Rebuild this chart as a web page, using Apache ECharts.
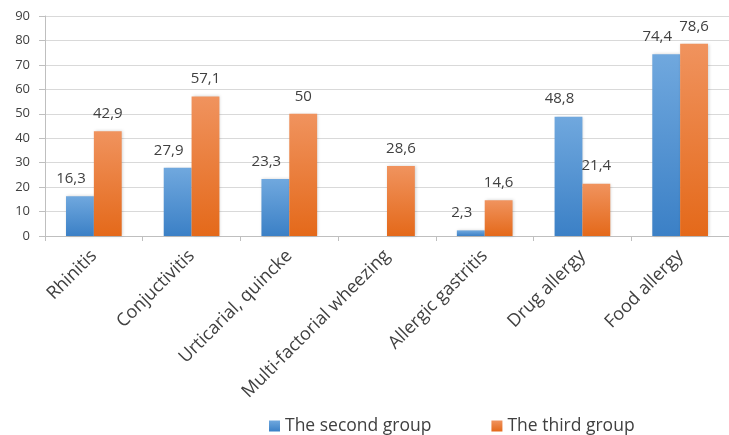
<!DOCTYPE html>
<html>
<head>
<meta charset="utf-8">
<script src="https://cdn.jsdelivr.net/npm/echarts@6/dist/echarts.min.js"></script>
<style>
  html, body { margin: 0; padding: 0; background: #fff; }
  #chart { width: 729px; height: 435px; }
</style>
</head>
<body>
<div id="chart"></div>
<script>
// Allergic manifestations by group (%)
var categories = ['Rhinitis', 'Conjuctivitis', 'Urticarial, quincke', 'Multi-factorial wheezing',
  'Allergic gastritis', 'Drug allergy', 'Food allergy'];
var secondGroup = [16.3, 27.9, 23.3, 0, 2.3, 48.8, 74.4];
var thirdGroup = [42.9, 57.1, 50, 28.6, 14.6, 21.4, 78.6];
var yTicks = [0, 10, 20, 30, 40, 50, 60, 70, 80, 90];

var FONT = '"Open Sans", "Noto Sans", sans-serif';
var TEXT = '#404040';

function grad(top, bottom) {
  return new echarts.graphic.LinearGradient(0, 0, 0, 1, [
    { offset: 0, color: top },
    { offset: 1, color: bottom }
  ]);
}

// decimal comma, and no label on empty bars
function fmt(p) {
  if (!p.value) return '';
  return String(p.value).replace('.', ',');
}

var chart = echarts.init(document.getElementById('chart'), null, { renderer: 'canvas' });
chart.setOption({
  animation: false,
  textStyle: { fontFamily: FONT },
  grid: { left: 45, right: -9, top: 16, bottom: 199, containLabel: false },
  legend: {
    top: 412,
    left: 264,
    itemWidth: 11,
    itemHeight: 11,
    itemGap: 60,
    icon: 'rect',
    textStyle: { fontFamily: FONT, fontSize: 17.5, color: TEXT, padding: [0, 0, 0, 0] },
    data: ['The second group', 'The third group']
  },
  xAxis: {
    type: 'category',
    data: categories,
    axisLine: { lineStyle: { color: '#bfbfbf' } },
    axisTick: { show: true, length: 5, lineStyle: { color: '#bfbfbf' } },
    axisLabel: { rotate: 45, interval: 0, fontFamily: FONT, fontSize: 18, color: TEXT, margin: 17 }
  },
  yAxis: {
    type: 'value',
    min: yTicks[0],
    max: yTicks[yTicks.length - 1],
    interval: 10,
    axisLine: { show: true, lineStyle: { color: '#bfbfbf' } },
    axisTick: { show: true, length: 6, lineStyle: { color: '#bfbfbf' } },
    axisLabel: { fontFamily: FONT, fontSize: 13, color: TEXT, margin: 15 },
    splitLine: { lineStyle: { color: '#d9d9d9' } }
  },
  series: [
    {
      name: 'The second group',
      type: 'bar',
      data: secondGroup,
      barGap: '0%',
      barCategoryGap: '43%',
      itemStyle: { color: grad('#70a8de', '#3b80c6'), shadowColor: 'rgba(0,0,0,0.18)', shadowBlur: 3, shadowOffsetX: 1 },
      label: { show: true, position: 'top', distance: 10, formatter: fmt, fontFamily: FONT, fontSize: 15, color: TEXT, offset: [-9, 0] }
    },
    {
      name: 'The third group',
      type: 'bar',
      data: thirdGroup,
      itemStyle: { color: grad('#f0935e', '#e4691a'), shadowColor: 'rgba(0,0,0,0.18)', shadowBlur: 3, shadowOffsetX: 1 },
      label: { show: true, position: 'top', distance: 10, formatter: fmt, fontFamily: FONT, fontSize: 15, color: TEXT }
    }
  ]
});
</script>
</body>
</html>
